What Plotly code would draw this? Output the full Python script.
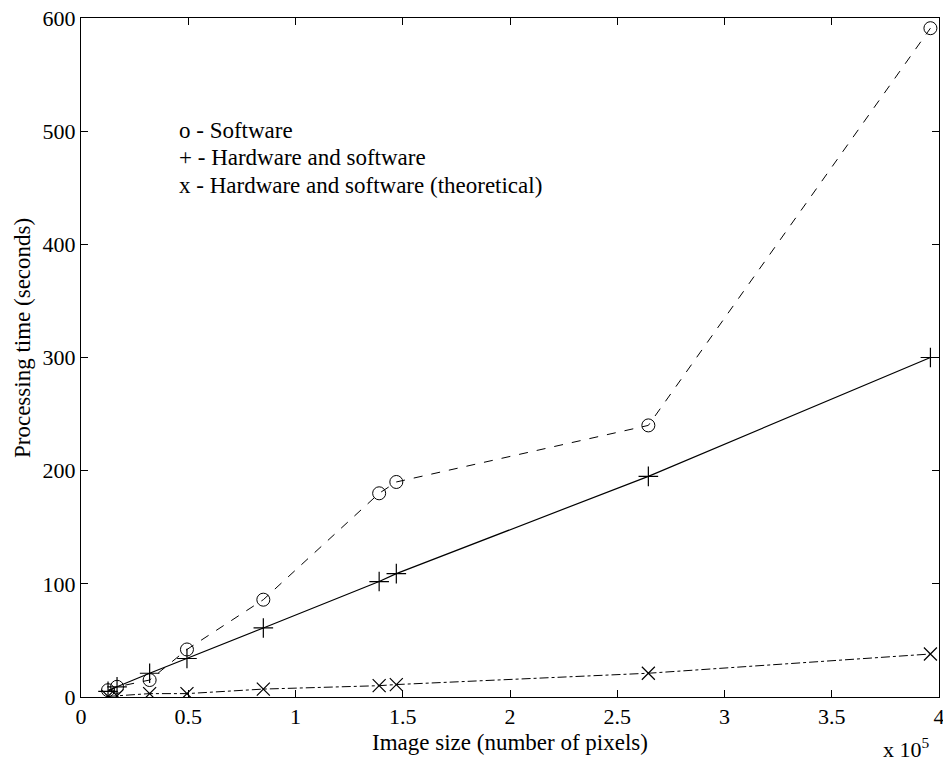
import plotly.graph_objects as go

image_size = [0.126, 0.168, 0.32, 0.494, 0.85, 1.39, 1.47, 2.645, 3.96]
software = [6, 9, 15, 42, 86, 180, 190, 240, 591]
hw_sw = [5, 9, 21, 34, 61, 102, 109, 195, 300]
hw_sw_theory = [0.5, 1, 3, 3, 7, 10, 11, 21, 38]

x_ticks = [0, 0.5, 1, 1.5, 2, 2.5, 3, 3.5, 4]
x_tick_labels = ["0", "0.5", "1", "1.5", "2", "2.5", "3", "3.5", "4"]
y_ticks = [0, 100, 200, 300, 400, 500, 600]

legend_lines = ["o - Software", "+ - Hardware and software",
                "x - Hardware and software (theoretical)"]
x_title = "Image size (number of pixels)"
y_title = "Processing time (seconds)"

FONT = "Liberation Serif"

# page has an 8px body margin; plot area targeted at window x 81-939, y 18-697
L, T = 73, 10
PW, PH = 858, 679
W, H = 951, 763

fig = go.Figure()
fig.add_trace(go.Scatter(x=image_size, y=software, mode="lines+markers",
                         line=dict(color="black", width=1, dash="dash"),
                         marker=dict(symbol="circle-open", size=13, color="black", line=dict(width=1))))
fig.add_trace(go.Scatter(x=image_size, y=hw_sw, mode="lines+markers",
                         line=dict(color="black", width=1.2),
                         marker=dict(symbol="cross-thin-open", size=14, color="black", line=dict(width=1.2))))
fig.add_trace(go.Scatter(x=image_size, y=hw_sw_theory, mode="lines+markers",
                         line=dict(color="black", width=1, dash="dashdot"),
                         marker=dict(symbol="x-thin-open", size=13, color="black", line=dict(width=1.2))))

def px_x(wx):
    return (wx - 8 - L) / PW

def px_y(wy):
    return 1 - (wy - 8 - T) / PH

anns = []
for i, t in enumerate(legend_lines):
    anns.append(dict(x=px_x(177), y=px_y(131 + 27 * i), xref="paper", yref="paper",
                     text=t, showarrow=False, xanchor="left", yanchor="middle",
                     font=dict(family=FONT, size=23, color="black")))
anns.append(dict(x=px_x(932), y=px_y(748), xref="paper", yref="paper", text="x 10<sup>5</sup>",
                 showarrow=False, xanchor="right", yanchor="middle",
                 font=dict(family=FONT, size=22, color="black")))
anns.append(dict(x=px_x(510), y=px_y(742), xref="paper", yref="paper", text=x_title,
                 showarrow=False, xanchor="center", yanchor="middle",
                 font=dict(family=FONT, size=23, color="black")))
anns.append(dict(x=px_x(22), y=px_y(338), xref="paper", yref="paper", text=y_title,
                 showarrow=False, xanchor="center", yanchor="middle", textangle=-90,
                 font=dict(family=FONT, size=23, color="black")))

fig.update_layout(
    width=W, height=H,
    margin=dict(l=L, r=W - L - PW, t=T, b=H - T - PH, autoexpand=False),
    paper_bgcolor="white", plot_bgcolor="white",
    showlegend=False,
    font=dict(family=FONT, size=22, color="black"),
    annotations=anns,
    xaxis=dict(range=[0, 4], tickvals=x_ticks, ticktext=x_tick_labels,
               ticks="inside", ticklen=7, tickcolor="black", showgrid=False, zeroline=False,
               showline=True, linecolor="black", linewidth=1, mirror="ticks",
               ticklabeloverflow="allow",
               tickfont=dict(family=FONT, size=22)),
    yaxis=dict(range=[0, 600], tickvals=y_ticks,
               ticks="inside", ticklen=7, tickcolor="black", showgrid=False, zeroline=False,
               showline=True, linecolor="black", linewidth=1, mirror="ticks",
               ticklabeloverflow="allow",
               tickfont=dict(family=FONT, size=22)),
)

fig.write_html("out.html")
